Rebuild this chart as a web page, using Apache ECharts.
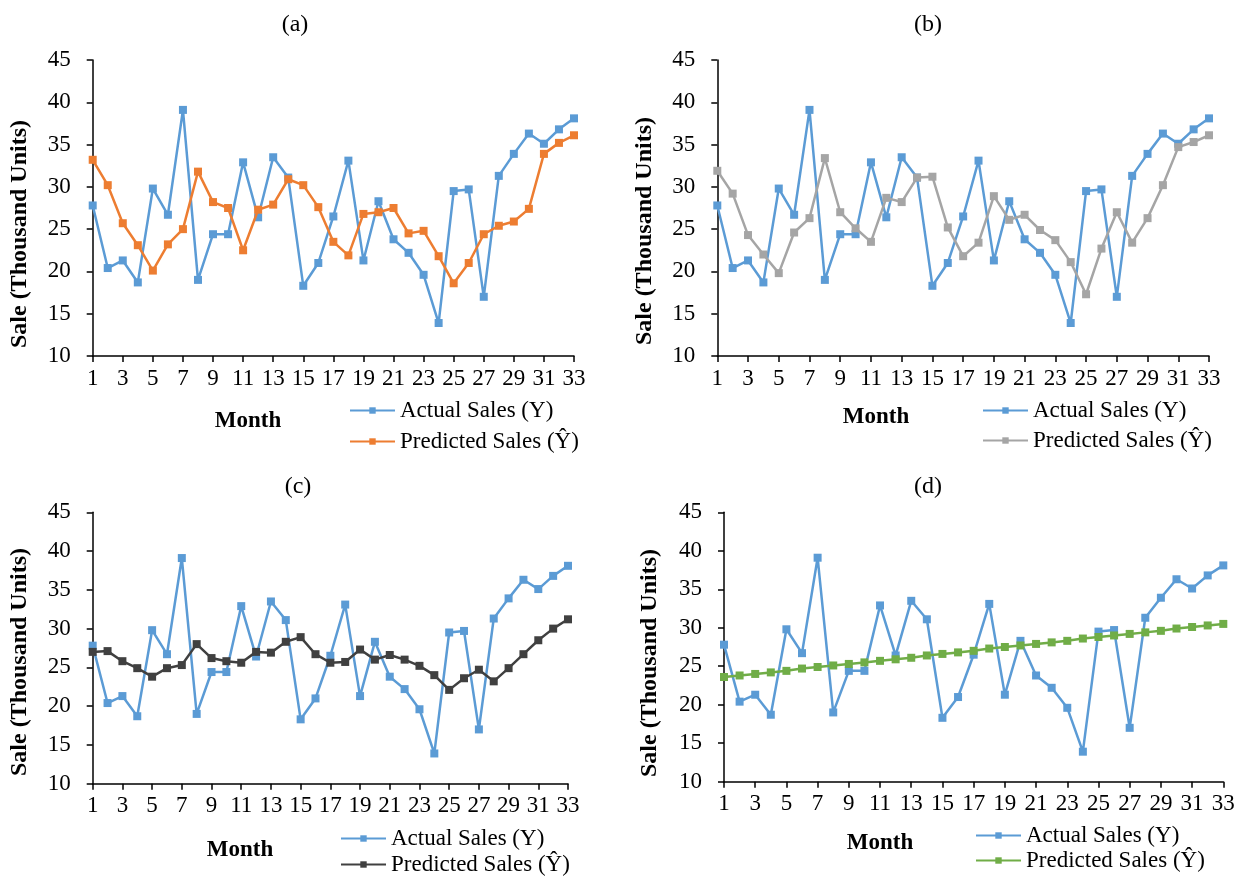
<!DOCTYPE html>
<html><head><meta charset="utf-8">
<script src="https://cdn.jsdelivr.net/npm/echarts@6/dist/echarts.min.js"></script>
<style>html,body{margin:0;padding:0;background:#fff}#c{width:1242px;height:879px}</style>
</head><body><div id="c"></div>
<script>
const months = ['1','2','3','4','5','6','7','8','9','10','11','12','13','14','15','16','17','18','19','20','21','22','23','24','25','26','27','28','29','30','31','32','33'];
const actualSales = [27.8,20.4,21.3,18.7,29.8,26.7,39.1,19.0,24.4,24.4,32.9,26.4,33.5,31.1,18.3,21.0,26.5,33.1,21.3,28.3,23.8,22.2,19.6,13.9,29.5,29.7,17.0,31.3,33.9,36.3,35.1,36.8,38.1];
const predictedA = [33.2,30.2,25.7,23.1,20.1,23.2,25.0,31.8,28.2,27.5,22.5,27.3,27.9,30.9,30.2,27.6,23.5,21.9,26.8,27.0,27.5,24.5,24.8,21.8,18.6,21.0,24.4,25.4,25.9,27.4,33.9,35.2,36.1];
const predictedB = [31.9,29.2,24.3,22.0,19.8,24.6,26.3,33.4,27.0,25.1,23.5,28.7,28.2,31.1,31.2,25.2,21.8,23.4,28.9,26.1,26.7,24.9,23.7,21.1,17.3,22.7,27.0,23.4,26.3,30.2,34.7,35.3,36.1];
const predictedC = [27.0,27.1,25.8,24.9,23.8,24.9,25.3,28.0,26.2,25.8,25.6,27.0,26.9,28.3,28.9,26.7,25.6,25.7,27.3,26.0,26.6,26.0,25.2,24.0,22.1,23.6,24.7,23.2,24.9,26.7,28.5,30.0,31.2];
const predictedD = [23.6,23.8,24.0,24.2,24.4,24.7,24.9,25.1,25.3,25.5,25.7,25.9,26.1,26.4,26.6,26.8,27.0,27.3,27.5,27.7,27.9,28.1,28.3,28.6,28.8,29.0,29.2,29.4,29.6,29.9,30.1,30.3,30.5];
const yMin = 10, yMax = 45, yStep = 5;
const panelTitles = ['(a)','(b)','(c)','(d)'];
const legendLabels = ['Actual Sales (Y)','Predicted Sales (\u0176)'];
const xAxisTitle = 'Month';
const yAxisTitle = 'Sale (Thousand Units)';

const FONT = 'Liberation Serif';
const FS = 23;
const actualColor = '#5B9BD5';
const predColors = ['#ED7D31','#A5A5A5','#404040','#70AD47'];
const predData = [predictedA, predictedB, predictedC, predictedD];

// layout for each panel
const panels = [
  {grid:{left:92.7, top:60, width:481.3, height:296}, title:[295,25], month:[248,421], legend:{left:349, top:398, gap:6}, yname:[20,234]},
  {grid:{left:717.3, top:60, width:491.7, height:296}, title:[928,25], month:[876,417], legend:{left:982, top:398, gap:5}, yname:[645,231]},
  {grid:{left:92.7, top:512.3, width:475.3, height:271.4}, title:[298,487], month:[240,850], legend:{left:340, top:826, gap:1}, yname:[20,662]},
  {grid:{left:724, top:512.3, width:499.3, height:269.4}, title:[928,487], month:[880,843], legend:{left:975, top:823, gap:0}, yname:[650,663]}
];

const chart = echarts.init(document.getElementById('c'), null, {renderer:'canvas'});
const grids = [], xAxes = [], yAxes = [], series = [], legends = [], graphics = [];
panels.forEach((p, i) => {
  grids.push(Object.assign({containLabel:false}, p.grid));
  xAxes.push({
    type:'category', gridIndex:i, data:months, boundaryGap:false,
    axisLine:{show:true, lineStyle:{color:'#000', width:1.5}},
    axisTick:{show:true, interval:1, inside:false, length:6, lineStyle:{color:'#000', width:1.5}},
    axisLabel:{interval:1, color:'#000', fontFamily:FONT, fontSize:FS, margin:11},
    splitLine:{show:false}
  });
  yAxes.push({
    type:'value', gridIndex:i, min:yMin, max:yMax, interval:yStep,
    axisLine:{show:true, lineStyle:{color:'#000', width:1.5}},
    axisTick:{show:true, inside:false, length:6, lineStyle:{color:'#000', width:1.5}},
    axisLabel:{color:'#000', fontFamily:FONT, fontSize:FS, margin:22},
    splitLine:{show:false}
  });
  const aName = 'actual_' + i, pName = 'pred_' + i;
  series.push({
    name:aName, type:'line', xAxisIndex:i, yAxisIndex:i, data:actualSales,
    symbol:'rect', symbolSize:8, showSymbol:true,
    itemStyle:{color:actualColor}, lineStyle:{color:actualColor, width:2.5}, z:2
  });
  series.push({
    name:pName, type:'line', xAxisIndex:i, yAxisIndex:i, data:predData[i],
    symbol:'rect', symbolSize:8, showSymbol:true,
    itemStyle:{color:predColors[i]}, lineStyle:{color:predColors[i], width:2.5}, z:3
  });
  legends.push({
    data:[aName, pName], orient:'vertical', left:p.legend.left, top:p.legend.top,
    padding:0, height:80, width:260,
    itemWidth:45, itemHeight:8, itemGap:p.legend.gap, selectedMode:false,
    formatter: n => n.startsWith('actual') ? legendLabels[0] : legendLabels[1],
    textStyle:{color:'#000', fontFamily:FONT, fontSize:FS, lineHeight:25}
  });
  graphics.push({type:'text', x:p.title[0], y:p.title[1],
    style:{text:panelTitles[i], fill:'#000', font:'24px "Liberation Serif"', textAlign:'center', textVerticalAlign:'middle'}});
  graphics.push({type:'text', x:p.month[0], y:p.month[1],
    style:{text:xAxisTitle, fill:'#000', font:'bold 23px "Liberation Serif"', textAlign:'center', textVerticalAlign:'middle'}});
  graphics.push({type:'text', x:p.yname[0], y:p.yname[1], rotation:Math.PI/2,
    style:{text:yAxisTitle, fill:'#000', font:'bold 24px "Liberation Serif"', textAlign:'center', textVerticalAlign:'middle'}});
});

chart.setOption({
  animation:false,
  backgroundColor:'#fff',
  grid:grids, xAxis:xAxes, yAxis:yAxes, series:series, legend:legends, graphic:graphics
});
</script></body></html>
